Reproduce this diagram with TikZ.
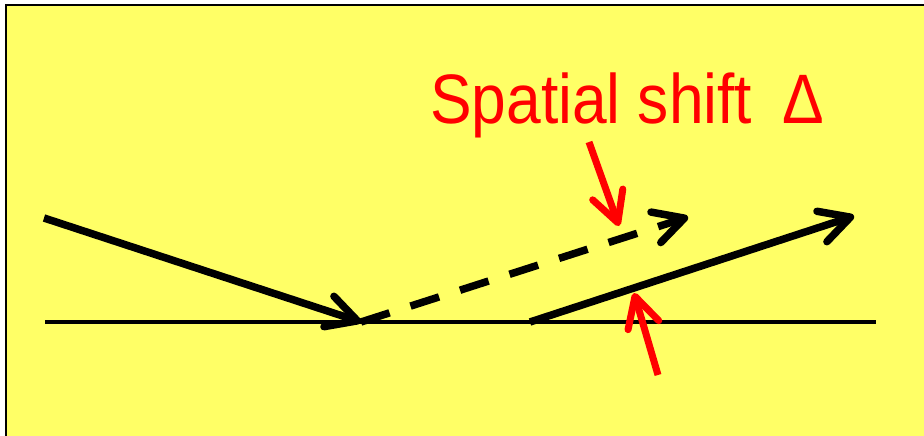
\documentclass[tikz,border=0pt]{standalone}
\usepackage{fontspec}
\setmainfont{Liberation Sans}
\usepackage{xcolor}
\usepackage{tikz}
\usetikzlibrary{arrows.meta}
\definecolor{slide}{RGB}{255,255,102}
\tikzset{ray/.style={draw=#1}
}

\begin{document}
\begin{tikzpicture}[x=1pt,y=-1pt]
  \useasboundingbox (0,0) rectangle (924,436);
  \fill[slide] (6,5) rectangle (930,440);
  \draw[line width=2pt] (6,440) -- (6,5) -- (930,5);
  \begin{scope}[every node/.style={coordinate}]
    \node (L1) at (45,322) {};
    \node (L2) at (876,322) {};
    \node (S) at (44,218) {};
    \node (O) at (361,322) {};
    \node (G) at (688,217) {};
    \node (R1) at (530,322) {};
    \node (R2) at (854,216) {};
    \node (U1) at (589,142) {};
    \node (U2) at (619,226) {};
    \node (V1) at (658,375) {};
    \node (V2) at (634,293) {};
  \end{scope}
  \node[text=red, font=\fontsize{70}{70}\selectfont, xscale=0.89,
        anchor=base west, inner sep=0] (T) at (430,123) {Spatial shift\hspace{34pt}Δ};
  % rays and pointers:
  \begin{scope}[>={Straight Barb[round,length=30pt,width=32pt]},
                  every edge/.style={draw,line width=7.5pt}]
        \path [-] (L1) edge[ray=black,line width=3.5pt] (L2);
        \path [->] (S) edge[ray=black] (O);
        \path [->] (O) edge[ray=black,dash pattern=on 30pt off 22pt] (G);
        \path [->] (R1) edge[ray=black] (R2);
        \path [->] (U1) edge[ray=red,line width=7pt] (U2);
        \path [->] (V1) edge[ray=red,line width=7pt] (V2);
    \end{scope}
    \end{tikzpicture}
\end{document}
